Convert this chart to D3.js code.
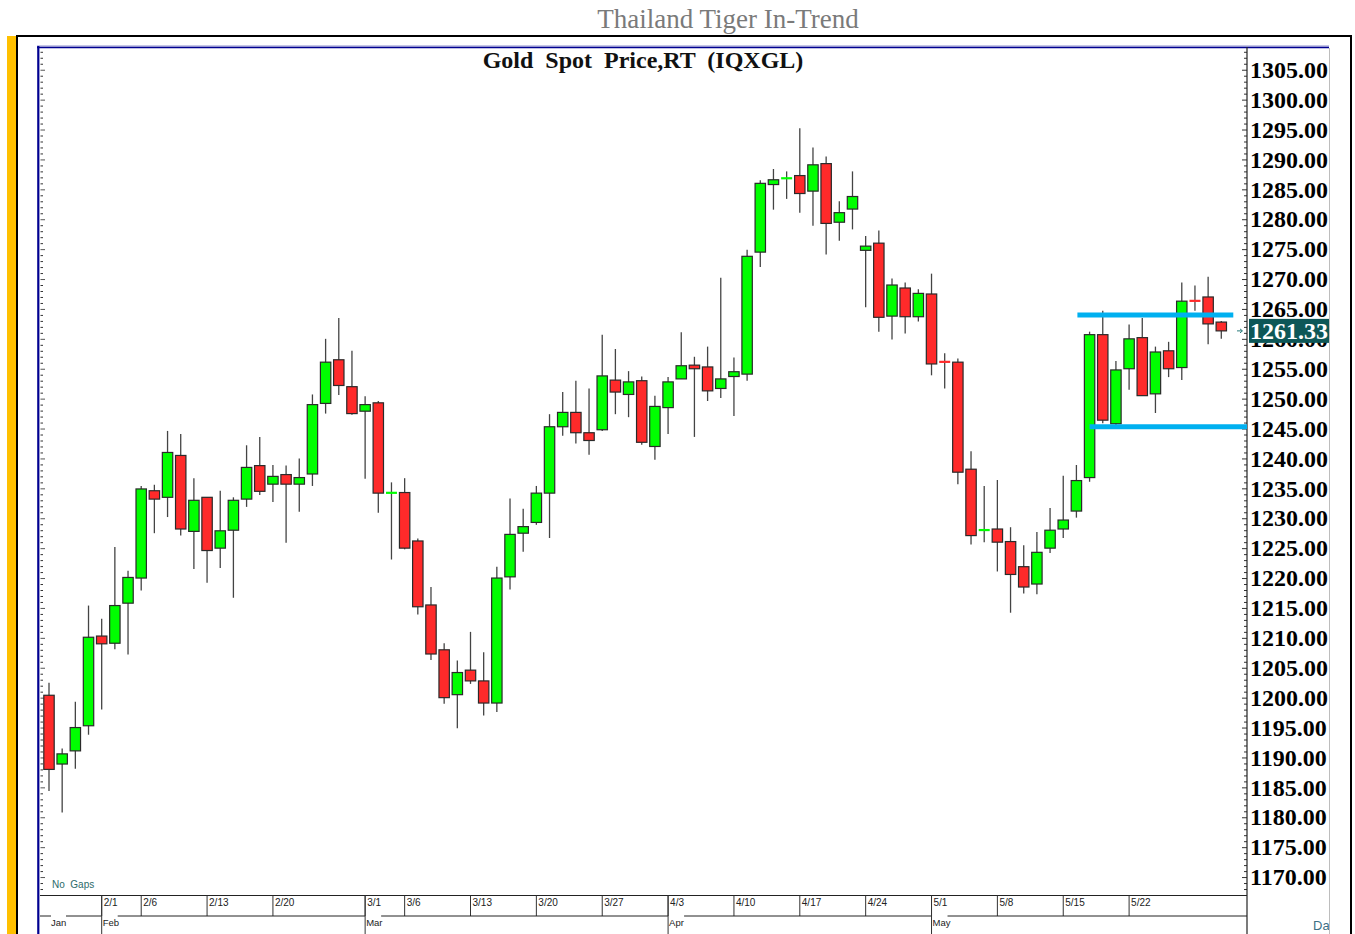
<!DOCTYPE html>
<html>
<head>
<meta charset="utf-8">
<script src="https://cdn.jsdelivr.net/npm/d3@7"></script>
<style>
  body { margin: 0; background: #fff; }
  svg { display: block; }
</style>
</head>
<body>
<div class="canva"></div>
<script>
// trading days, 2017
const dates = [
  '1/26','1/27','1/30','1/31',
  '2/1','2/2','2/3','2/6','2/7','2/8','2/9','2/10','2/13','2/14','2/15','2/16','2/17',
  '2/20','2/21','2/22','2/23','2/24','2/27','2/28',
  '3/1','3/2','3/3','3/6','3/7','3/8','3/9','3/10','3/13','3/14','3/15','3/16','3/17',
  '3/20','3/21','3/22','3/23','3/24','3/27','3/28','3/29','3/30','3/31',
  '4/3','4/4','4/5','4/6','4/7','4/10','4/11','4/12','4/13','4/14','4/17','4/18','4/19','4/20','4/21',
  '4/24','4/25','4/26','4/27','4/28',
  '5/1','5/2','5/3','5/4','5/5','5/8','5/9','5/10','5/11','5/12','5/15','5/16','5/17','5/18','5/19',
  '5/22','5/23','5/24','5/25','5/26','5/29','5/30','5/31'
];

const opens = [
  1200.4,1188.9,1191.1,1195.3,1210.3,1209.1,1215.8,1220.0,1234.6,1233.5,1240.5,1227.8,1233.5,1225.0,1228.0,1233.2,1238.8,
  1235.7,1237.3,1235.7,1237.4,1249.2,1256.5,1252.0,
  1247.9,1249.3,1234.2,1234.3,1226.2,1215.5,1208.0,1200.5,1204.6,1202.8,1199.1,1220.2,1227.5,
  1229.3,1234.2,1245.3,1247.7,1244.3,1244.8,1253.1,1250.7,1253.0,1242.0,
  1248.5,1253.3,1255.6,1255.3,1251.7,1253.7,1254.1,1274.5,1285.8,1286.8,1287.3,1284.7,1289.3,1279.5,1281.7,
  1274.8,1276.0,1263.8,1268.5,1263.7,
  1267.5,1256.2,1256.1,1238.2,1228.0,1228.2,1226.1,1221.9,1219.0,1225.0,1228.2,1231.2,1236.8,1260.7,1245.8,
  1255.0,1260.2,1250.8,1258.0,1255.2,1266.4,1267.0,1262.8
];
const highs = [
  1202.5,1191.5,1199.3,1215.4,1213.2,1225.2,1221.2,1235.4,1235.6,1244.6,1244.1,1236.7,1233.5,1234.6,1233.5,1242.2,1243.6,
  1238.9,1238.8,1240.0,1250.7,1260.0,1263.5,1258.0,
  1250.4,1249.6,1236.0,1236.7,1226.6,1218.5,1209.1,1206.2,1211.0,1207.6,1221.9,1233.3,1231.6,
  1235.4,1247.4,1251.1,1253.0,1251.7,1260.7,1258.3,1254.6,1253.7,1250.5,
  1253.6,1261.1,1257.0,1258.7,1270.2,1256.9,1274.9,1286.5,1288.4,1288.0,1295.2,1292.0,1290.5,1283.0,1288.0,
  1277.2,1278.1,1270.1,1269.4,1268.3,
  1270.9,1257.6,1256.7,1241.2,1235.4,1236.4,1228.5,1225.5,1227.7,1231.7,1237.1,1238.9,1261.2,1264.7,1256.3,
  1262.4,1263.5,1258.7,1259.5,1269.4,1268.9,1270.4,1263.0
];
const lows = [
  1184.4,1180.8,1188.1,1193.8,1198.0,1208.1,1207.2,1217.9,1227.5,1230.2,1227.1,1221.5,1219.2,1221.7,1216.7,1231.9,1233.9,
  1232.7,1225.9,1231.1,1235.4,1247.5,1250.6,1247.3,
  1236.6,1230.9,1223.1,1224.8,1213.9,1206.3,1199.0,1194.9,1202.3,1197.0,1197.6,1218.1,1224.4,
  1228.9,1226.7,1243.8,1242.5,1240.6,1244.6,1247.4,1246.9,1242.3,1239.8,
  1244.1,1253.3,1243.6,1249.6,1250.1,1247.1,1253.0,1272.0,1281.6,1283.4,1281.1,1278.9,1274.1,1276.4,1278.3,
  1265.3,1261.2,1259.9,1260.9,1262.9,
  1253.9,1251.7,1235.7,1225.6,1226.0,1221.1,1214.2,1217.4,1217.3,1224.2,1226.7,1230.1,1236.1,1245.9,1245.3,
  1251.5,1250.5,1247.6,1253.6,1253.1,1264.7,1259.1,1260.0
];
const closes = [
  1188.0,1190.6,1195.0,1210.1,1209.0,1215.4,1220.1,1234.9,1233.2,1241.0,1228.2,1233.0,1224.6,1227.9,1233.0,1238.5,1234.5,
  1237.0,1235.7,1236.8,1249.0,1256.1,1252.2,1247.5,
  1249.0,1234.2,1234.3,1225.0,1215.2,1207.3,1200.0,1204.2,1202.8,1199.1,1220.0,1227.3,1228.6,
  1234.2,1245.3,1247.7,1244.3,1243.0,1253.8,1251.1,1252.8,1242.7,1248.7,
  1252.8,1255.5,1255.0,1251.3,1253.3,1254.5,1273.8,1286.0,1286.6,1286.9,1284.3,1289.1,1279.3,1281.1,1283.8,
  1275.5,1263.6,1269.0,1263.7,1267.6,
  1255.8,1256.1,1237.7,1227.1,1228.05,1226.0,1220.6,1218.5,1224.3,1228.0,1229.7,1236.3,1260.7,1246.4,1254.8,
  1260.0,1250.5,1257.8,1255.0,1266.3,1266.3,1262.5,1261.33
];

const priceTicks = [1170,1175,1180,1185,1190,1195,1200,1205,1210,1215,1220,1225,1230,1235,
  1240,1245,1250,1255,1260,1265,1270,1275,1280,1285,1290,1295,1300,1305];

const weekLabels = ['2/1','2/6','2/13','2/20','3/1','3/6','3/13','3/20','3/27',
  '4/3','4/10','4/17','4/24','5/1','5/8','5/15','5/22'];
const monthNames = ['Feb','Mar','Apr','May'];
const monthStarts = ['2/1','3/1','4/3','5/1'];

// drawn trend lines: resistance and support
const levelValues = [1264.0, 1245.3];
const levelFrom = ['5/16','5/17'];
const levelTo = ['5/31','5/31'];

const lastPrice = 1261.33;

const candles = dates.map((d, i) => ({date: d, o: opens[i], h: highs[i], l: lows[i], c: closes[i]}));

const canvas = d3.select('.canva');
const svg = canvas.append('svg')
  .attr('width', 1355)
  .attr('height', 934);

const plotL = 40, plotR = 1247, plotT = 47, plotB = 895.5;
const rowY = 916;

const x = d3.scalePoint().domain(dates).range([49, 1221.3]);
const y = d3.scaleLinear().domain([1167, 1308.8]).range([895, plotT]);

// page title
svg.append('text')
  .attr('x', 728).attr('y', 28)
  .attr('text-anchor', 'middle')
  .attr('font-family', 'Liberation Serif, serif')
  .attr('font-size', 27)
  .attr('fill', '#7a7a7a')
  .text('Thailand Tiger In-Trend');

// frames
svg.append('rect').attr('x', 7).attr('y', 36).attr('width', 9).attr('height', 898).attr('fill', '#ffc000');
svg.append('line').attr('x1', 16).attr('x2', 1352).attr('y1', 36).attr('y2', 36).attr('stroke', '#000').attr('stroke-width', 2);
svg.append('line').attr('x1', 17).attr('x2', 17).attr('y1', 35).attr('y2', 934).attr('stroke', '#000').attr('stroke-width', 2);
svg.append('line').attr('x1', 1351).attr('x2', 1351).attr('y1', 35).attr('y2', 934).attr('stroke', '#000').attr('stroke-width', 2);

svg.append('line').attr('x1', 37).attr('x2', 1329).attr('y1', 46).attr('y2', 46).attr('stroke', '#8c8ccc').attr('stroke-width', 1);
svg.append('line').attr('x1', 37).attr('x2', 1329).attr('y1', 47.5).attr('y2', 47.5).attr('stroke', '#000090').attr('stroke-width', 1.6);
svg.append('line').attr('x1', 38.3).attr('x2', 38.3).attr('y1', 46).attr('y2', 934).attr('stroke', '#000090').attr('stroke-width', 2.2);
svg.append('line').attr('x1', 1329.5).attr('x2', 1329.5).attr('y1', 48).attr('y2', 934).attr('stroke', '#bdbdbd').attr('stroke-width', 1);

// chart title
svg.append('text')
  .attr('x', 643).attr('y', 68)
  .attr('text-anchor', 'middle')
  .attr('font-family', 'Liberation Serif, serif')
  .attr('font-weight', 'bold')
  .attr('font-size', 24)
  .attr('fill', '#111')
  .style('white-space', 'pre')
  .text('Gold  Spot  Price,RT  (IQXGL)');

// left minor ticks
const minorValues = d3.range(1168, 1309, 1);
svg.append('g')
  .attr('transform', `translate(${plotL + 0.5},0)`)
  .call(d3.axisRight(y).tickValues(minorValues.filter(v => v % 5 !== 0)).tickSize(2.5).tickFormat(''))
  .call(g => g.select('.domain').remove())
  .call(g => g.selectAll('line').attr('stroke', '#333'));
svg.append('g')
  .attr('transform', `translate(${plotL + 0.5},0)`)
  .call(d3.axisRight(y).tickValues(minorValues.filter(v => v % 5 === 0)).tickSize(4.5).tickFormat(''))
  .call(g => g.select('.domain').remove())
  .call(g => g.selectAll('line').attr('stroke', '#555'));

// right axis
svg.append('g')
  .attr('transform', `translate(${plotR},0)`)
  .call(d3.axisRight(y).tickValues(minorValues.filter(v => v % 5 !== 0)).tickSize(-3).tickFormat(''))
  .call(g => g.select('.domain').remove())
  .call(g => g.selectAll('line').attr('stroke', '#333'));
svg.append('g')
  .attr('transform', `translate(${plotR},0)`)
  .call(d3.axisRight(y).tickValues(priceTicks).tickSize(-5).tickPadding(3).tickFormat(d3.format('.2f')))
  .call(g => g.select('.domain').remove())
  .call(g => g.selectAll('line').attr('stroke', '#333'))
  .call(g => g.selectAll('text')
    .attr('font-family', 'Liberation Serif, serif')
    .attr('font-weight', 'bold')
    .attr('font-size', 24)
    .attr('fill', '#000'));

// plot borders
svg.append('line').attr('x1', plotR).attr('x2', plotR).attr('y1', plotT).attr('y2', 934).attr('stroke', '#222').attr('stroke-width', 1.2);
svg.append('line').attr('x1', plotL).attr('x2', plotR).attr('y1', plotB).attr('y2', plotB).attr('stroke', '#222').attr('stroke-width', 1.2);

// date axis
const dateAxis = svg.append('g').attr('font-family', 'Arial, Liberation Sans, sans-serif').attr('font-size', 10);

dateAxis.selectAll('line.week')
  .data(weekLabels)
  .enter().append('line')
  .attr('x1', d => x(d)).attr('x2', d => x(d))
  .attr('y1', plotB).attr('y2', rowY)
  .attr('stroke', '#333');

dateAxis.selectAll('text.week')
  .data(weekLabels)
  .enter().append('text')
  .attr('x', d => x(d) + 2)
  .attr('y', 906)
  .attr('fill', '#222')
  .text(d => d);

// row separator, broken above each month name
const gaps = [[51, 66]].concat(monthStarts.map(m => [x(m), x(m) + 16]));
const segs = [];
let sx = plotL;
gaps.forEach(g => { if (g[0] > sx) segs.push([sx, g[0]]); sx = g[1]; });
segs.push([sx, plotR]);
dateAxis.selectAll('line.sep')
  .data(segs)
  .enter().append('line')
  .attr('x1', d => d[0]).attr('x2', d => d[1])
  .attr('y1', rowY).attr('y2', rowY)
  .attr('stroke', '#222');

dateAxis.selectAll('line.month')
  .data(monthStarts)
  .enter().append('line')
  .attr('x1', d => x(d)).attr('x2', d => x(d))
  .attr('y1', plotB).attr('y2', 934)
  .attr('stroke', '#333');

dateAxis.selectAll('text.month')
  .data(monthNames)
  .enter().append('text')
  .attr('x', (d, i) => x(monthStarts[i]) + 1)
  .attr('y', 926)
  .attr('font-size', 9.5)
  .attr('fill', '#222')
  .text(d => d);

dateAxis.append('text').attr('x', 51).attr('y', 926).attr('font-size', 9.5).attr('fill', '#222').text('Jan');

svg.append('text')
  .attr('x', 52).attr('y', 888)
  .attr('font-family', 'Arial, Liberation Sans, sans-serif')
  .attr('font-size', 10)
  .attr('fill', '#2d6b6b')
  .style('white-space', 'pre')
  .text('No  Gaps');

svg.append('clipPath').attr('id', 'daclip')
  .append('rect').attr('x', 1300).attr('y', 912).attr('width', 29).attr('height', 22);
svg.append('text')
  .attr('x', 1313).attr('y', 930)
  .attr('clip-path', 'url(#daclip)')
  .attr('font-family', 'Arial, Liberation Sans, sans-serif')
  .attr('font-size', 13)
  .attr('fill', '#3d6f85')
  .text('Daily');

// candles
const isDoji = d => Math.abs(d.o - d.c) < 0.3;
const up = '#00ff00', down = '#ff2a2a';

svg.append('g').selectAll('line')
  .data(candles)
  .enter().append('line')
  .attr('x1', d => x(d.date)).attr('x2', d => x(d.date))
  .attr('y1', d => y(d.h)).attr('y2', d => y(d.l))
  .attr('stroke', '#444')
  .attr('stroke-width', 1.3);

svg.append('g').selectAll('rect')
  .data(candles.filter(d => !isDoji(d)))
  .enter().append('rect')
  .attr('x', d => x(d.date) - 5.2)
  .attr('width', 10.4)
  .attr('y', d => y(Math.max(d.o, d.c)))
  .attr('height', d => Math.abs(y(d.o) - y(d.c)))
  .attr('fill', d => d.c >= d.o ? up : down)
  .attr('stroke', '#2a2a2a')
  .attr('stroke-width', 1.2);

svg.append('g').selectAll('line')
  .data(candles.filter(isDoji))
  .enter().append('line')
  .attr('x1', d => x(d.date) - 5.5).attr('x2', d => x(d.date) + 5.5)
  .attr('y1', d => y((d.o + d.c) / 2)).attr('y2', d => y((d.o + d.c) / 2))
  .attr('stroke', d => d.c >= d.o ? up : down)
  .attr('stroke-width', 2.2);

// trend lines
svg.append('g').selectAll('line')
  .data(levelValues)
  .enter().append('line')
  .attr('x1', (d, i) => x(levelFrom[i]) + (i === 0 ? 1 : 0))
  .attr('x2', (d, i) => i === 0 ? x(levelTo[i]) + 12 : plotR)
  .attr('y1', d => y(d)).attr('y2', d => y(d))
  .attr('stroke', '#00b0f0')
  .attr('stroke-width', 5);

// last price marker
const ly = y(lastPrice);
svg.append('path')
  .attr('d', `M1237,${ly} L1242,${ly} M1240,${ly - 2} L1242.5,${ly} L1240,${ly + 2}`)
  .attr('stroke', '#2a7a7a').attr('stroke-width', 1).attr('fill', 'none');
svg.append('rect')
  .attr('x', 1249).attr('y', ly - 12)
  .attr('width', 80).attr('height', 24)
  .attr('fill', '#0d5757');
svg.append('text')
  .attr('x', 1250).attr('y', ly)
  .attr('dy', '0.35em')
  .attr('font-family', 'Liberation Serif, serif')
  .attr('font-weight', 'bold')
  .attr('font-size', 24)
  .attr('fill', '#fff')
  .text(d3.format('.2f')(lastPrice));
</script>
</body>
</html>
